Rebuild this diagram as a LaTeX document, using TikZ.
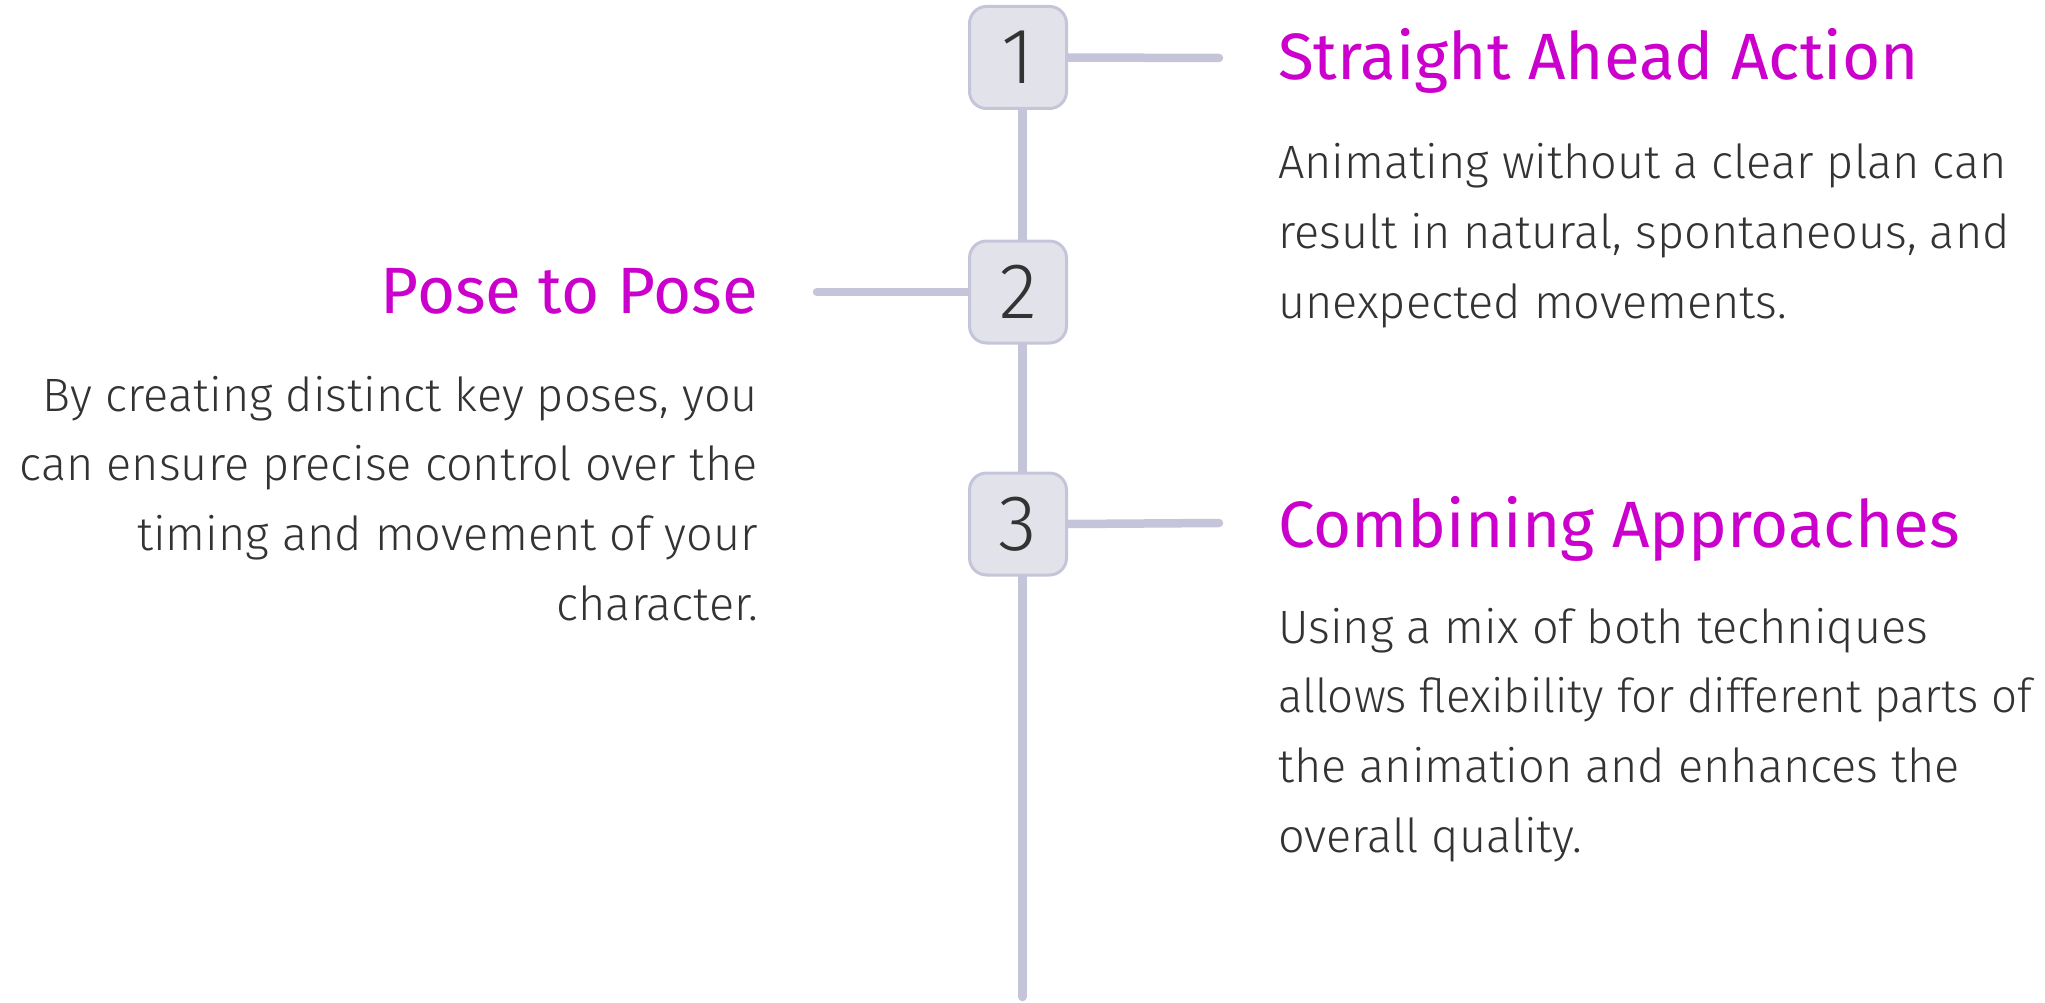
\documentclass[tikz,border=0pt]{standalone}
\usepackage{fontspec}
\usetikzlibrary{backgrounds}
% light face for body text and step numbers, regular face for headings
\IfFontExistsTF{FiraSans-Light.otf}
  {\newfontfamily\lightfont{FiraSans-Light.otf}}
  {\IfFontExistsTF{Fira Sans Light}
    {\newfontfamily\lightfont{Fira Sans Light}}
    {\newfontfamily\lightfont{Carlito}}}
\newfontfamily\headfont{Fira Sans}

\definecolor{railc}{HTML}{C5C5D9}
\definecolor{boxfill}{HTML}{E2E2EB}
\definecolor{headmag}{HTML}{CC00CC}
\definecolor{ink}{HTML}{333333}

\begin{document}
\begin{tikzpicture}[x=1pt,y=-1pt,
  rail/.style={draw=railc, line width=8.5pt, line cap=round},
  stepbox/.style={draw=railc, line width=3pt, fill=boxfill, rounded corners=17pt,
    minimum width=97pt, minimum height=102pt, inner sep=0pt,
    font=\lightfont\fontsize{79}{79}\selectfont, text=ink},
  headtext/.style={anchor=base west, inner sep=0pt, text=headmag,
    font=\headfont\fontsize{65.5}{65.5}\selectfont},
  bodytext/.style={anchor=base west, inner sep=0pt, text=ink,
    font=\lightfont\fontsize{46.8}{69.7}\selectfont},
]
\useasboundingbox (0,0) rectangle (2045,1003);

% step boxes
\node[stepbox] (b1) at (1018,57.5) {1};
\node[stepbox] (b2) at (1018,292) {2};
\node[stepbox] (b3) at (1018,524) {3};

% free ends of the rails
\coordinate (tail) at (1022.5,997);
\coordinate (r1) at (1219,58);
\coordinate (l2) at (817,292);
\coordinate (r3) at (1219,523);

% rails behind the boxes
\begin{scope}[on background layer]
  \draw[rail] ([xshift=4.5pt]b1.center) -- ([xshift=4.5pt]b2.center)
              -- ([xshift=4.5pt]b3.center) -- (tail);
  \draw[rail] (b1.east) -- (r1);
  \draw[rail] (b2.west) -- (l2);
  \draw[rail] (b3.east) -- (r3);
\end{scope}

% step 1
\node[headtext] (h1) at (1278,80) {Straight Ahead Action};
\node[bodytext] (t1) at (1278,179) {\parbox[t]{1000pt}{\raggedright
  Animating without a clear plan can\\
  result in natural, spontaneous, and\\
  unexpected movements.}};

% step 2
\node[headtext, anchor=base east] (h2) at (758,313) {Pose to Pose};
\node[bodytext, anchor=base east] (t2) at (758,411) {\parbox[t]{1000pt}{\raggedleft
  By creating distinct key poses, you\\
  can ensure precise control over the\\
  timing and movement of your\\
  character.}};

% step 3 (its long second line is set a touch narrower)
\node[headtext] (h3) at (1278,547) {Combining Approaches};
\node[bodytext] (t3) at (1278,643) {\parbox[t]{1000pt}{\raggedright
  Using a mix of both techniques\\
  \scalebox{0.975}[1]{allows flexibility for different parts of}\\
  the animation and enhances the\\
  overall quality.}};
\end{tikzpicture}
\end{document}
